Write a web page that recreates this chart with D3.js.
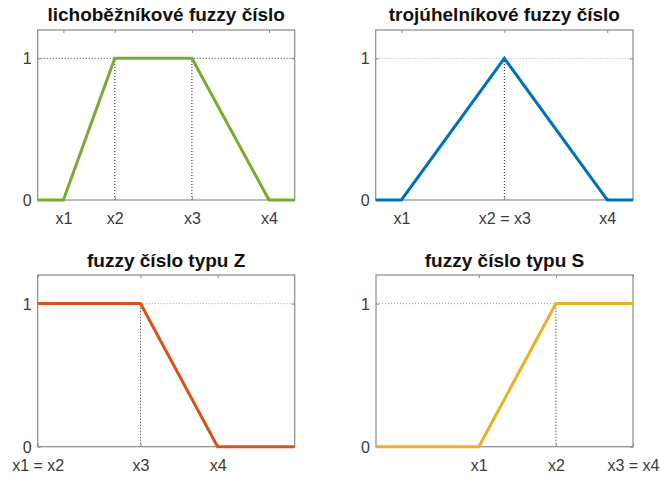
<!DOCTYPE html>
<html>
<head>
<meta charset="utf-8">
<script src="https://cdn.jsdelivr.net/npm/d3@7"></script>
<style>
  html, body { margin: 0; padding: 0; background: #fff; }
  svg { display: block; }
  text { font-family: "Liberation Sans", Arial, Helvetica, sans-serif; }
</style>
</head>
<body>
<svg id="chart" width="660" height="481"></svg>
<script>
// ---- data ----
const titles = ["lichoběžníkové fuzzy číslo", "trojúhelníkové fuzzy číslo", "fuzzy číslo typu Z", "fuzzy číslo typu S"];
const colors = ["#77AC30", "#0072BD", "#D95319", "#EDB120"];

const trapX = [0, 1, 3, 6, 9, 10];
const trapY = [0, 0, 1, 1, 0, 0];
const triX = [0, 1, 5, 9, 10];
const triY = [0, 0, 1, 0, 0];
const zX = [0, 4, 7, 10];
const zY = [1, 1, 0, 0];
const sX = [0, 4, 7, 10];
const sY = [0, 0, 1, 1];

const trapTicks = [1, 3, 6, 9];
const trapLabels = ["x1", "x2", "x3", "x4"];
const triTicks = [1, 5, 9];
const triLabels = ["x1", "x2 = x3", "x4"];
const zTicks = [0, 4, 7];
const zLabels = ["x1 = x2", "x3", "x4"];
const sTicks = [4, 7, 10];
const sLabels = ["x1", "x2", "x3 = x4"];

const trapGuides = [3, 6];
const triGuides = [5];
const zGuides = [4];
const sGuides = [7];

const yTicks = [0, 1];
const yLabels = ["0", "1"];

const xDomain = [0, 10];
const yDomain = [0, 1.2];

// ---- layout ----
const panels = [
  { xs: trapX, ys: trapY, ticks: trapTicks, labels: trapLabels, guides: trapGuides, box: [37.7, 30, 294.7, 200], hColor: "#333", title: 21 },
  { xs: triX, ys: triY, ticks: triTicks, labels: triLabels, guides: triGuides, box: [375.7, 30, 633, 200], hColor: "#9aa9b8", title: 21 },
  { xs: zX, ys: zY, ticks: zTicks, labels: zLabels, guides: zGuides, box: [37.7, 275, 294.7, 446.7], hColor: "#8fa3b8", title: 266.5 },
  { xs: sX, ys: sY, ticks: sTicks, labels: sLabels, guides: sGuides, box: [376, 275, 633, 446.7], hColor: "#8fa3b8", title: 266.5 }
];

const svg = d3.select("#chart");
const axisColor = "#8a8a8a";
const textColor = "#3a3a3a";

panels.forEach((p, i) => {
  const [x0, y0, x1, y1] = p.box;
  const x = d3.scaleLinear().domain(xDomain).range([x0, x1]);
  const y = d3.scaleLinear().domain(yDomain).range([y1, y0]);
  const g = svg.append("g");

  // horizontal dotted line at y = 1
  g.append("line")
    .attr("x1", x0).attr("x2", x1)
    .attr("y1", y(1)).attr("y2", y(1))
    .attr("stroke", p.hColor).attr("stroke-width", 1)
    .attr("stroke-dasharray", "1,2");

  // vertical dotted guides
  g.selectAll(".guide").data(p.guides).enter().append("line")
    .attr("x1", d => x(d)).attr("x2", d => x(d))
    .attr("y1", y(0)).attr("y2", y(1))
    .attr("stroke", "#222").attr("stroke-width", 1)
    .attr("stroke-dasharray", "1,2");

  // axes
  const tk = 3;
  const bottom = g.append("g").attr("transform", `translate(0,${y1})`)
    .call(d3.axisBottom(x).tickValues(p.ticks).tickFormat((d, k) => p.labels[k]).tickSizeInner(-tk).tickSizeOuter(0));
  bottom.selectAll("text").attr("y", 24).attr("dy", null)
    .attr("font-size", 16).attr("fill", textColor);
  const top = g.append("g").attr("transform", `translate(0,${y0})`)
    .call(d3.axisTop(x).tickValues(p.ticks).tickFormat("").tickSizeInner(-tk).tickSizeOuter(0));
  const left = g.append("g").attr("transform", `translate(${x0},0)`)
    .call(d3.axisLeft(y).tickValues(yTicks).tickFormat((d, k) => yLabels[k]).tickSizeInner(-tk).tickSizeOuter(0));
  left.selectAll("text").attr("x", -6).attr("dy", "0.35em")
    .attr("font-size", 16).attr("fill", textColor);
  const right = g.append("g").attr("transform", `translate(${x1},0)`)
    .call(d3.axisRight(y).tickValues(yTicks).tickFormat("").tickSizeInner(-tk).tickSizeOuter(0));
  [bottom, top, left, right].forEach(a => {
    a.select(".domain").remove();
    a.selectAll("line").attr("stroke", axisColor);
    a.attr("font-family", null);
  });

  // box
  g.append("rect")
    .attr("x", x0).attr("y", y0)
    .attr("width", x1 - x0).attr("height", y1 - y0)
    .attr("fill", "none").attr("stroke", axisColor).attr("stroke-width", 1.2);

  // data line
  const pts = p.xs.map((v, k) => [v, p.ys[k]]);
  g.append("path")
    .datum(pts)
    .attr("d", d3.line().x(d => x(d[0])).y(d => y(d[1])))
    .attr("fill", "none").attr("stroke", colors[i])
    .attr("stroke-width", 3).attr("stroke-linejoin", "miter");

  // title
  g.append("text")
    .attr("x", (x0 + x1) / 2).attr("y", p.title)
    .attr("text-anchor", "middle")
    .attr("font-size", 19).attr("font-weight", "bold")
    .attr("fill", "#111")
    .text(titles[i]);
});
</script>
</body>
</html>
